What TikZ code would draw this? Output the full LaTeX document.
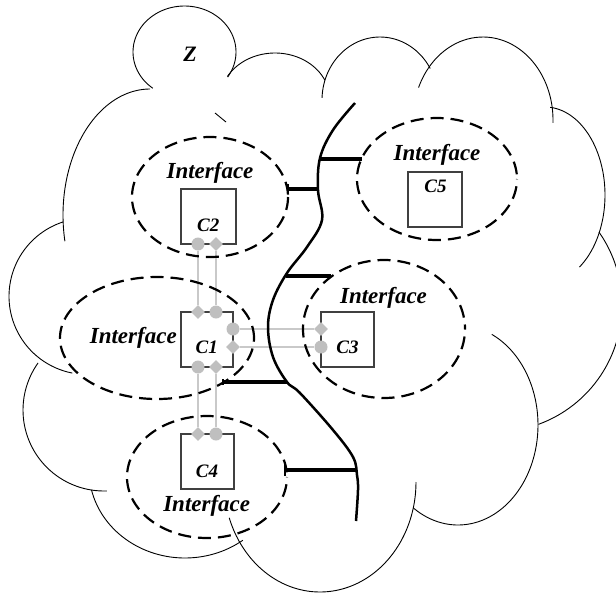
\documentclass[tikz,border=0pt]{standalone}
\usepackage{fontspec}
\setmainfont{Liberation Serif}
\usetikzlibrary{shapes.geometric}

% one bump of the cloud outline: centre, radii, angular range
\newcommand{\cloudbump}[6]{%
  \draw[cloud] plot[domain=#5:#6, samples=48, smooth]
    ({#1+#3*cos(\x)},{#2+#4*sin(\x)});}

\begin{document}
\begin{tikzpicture}[x=1pt,y=-1pt,
  cloud/.style={line width=0.9pt, black},
  zone/.style={ellipse, draw, line width=2.2pt, dash pattern=on 13pt off 7pt, inner sep=0pt},
  comp/.style={rectangle, draw=black!75, line width=1.1pt, inner sep=0pt},
  iflabel/.style={font=\fontsize{23}{23}\selectfont\bfseries\itshape, anchor=base, inner sep=0pt},
  clabel/.style={font=\fontsize{19}{19}\selectfont\bfseries\itshape, anchor=base, inner sep=0pt},
  spine/.style={line width=2.5pt, line join=round},
  branch/.style={line width=3.5pt},
  endbar/.style={line width=2pt},
  link/.style={draw=black!21, line width=1.8pt},
  pin/.style={circle, fill=black!25, minimum size=13pt, inner sep=0pt},
  gem/.style={diamond, fill=black!25, minimum size=14pt, inner sep=0pt},
]
\useasboundingbox (0,0) rectangle (616,595);
\fill[white] (0,0) rectangle (616,595);

% cloud outline
\cloudbump{184.5}{52}{51.5}{46}{128}{393}
\cloudbump{275}{100}{55}{47}{210}{335}
\cloudbump{380}{100}{58}{63}{182}{330}
\cloudbump{483}{120}{70}{83}{203}{362}
\cloudbump{545}{195}{60}{88}{275}{415}
\cloudbump{495}{305}{127}{127}{325}{430}
\cloudbump{458}{425}{80}{100}{-65}{124}
\cloudbump{320}{482}{96}{110}{0}{161}
\cloudbump{185}{470}{96}{88}{53}{167}
\cloudbump{104}{410}{81}{81}{88}{215.5}
\cloudbump{87.2}{296.3}{78.2}{78.2}{101}{252}
\cloudbump{150}{215}{87}{126}{168}{270}
\draw[cloud] (215,113) -- (226,122);
\node[font=\fontsize{22}{22}\selectfont\bfseries\itshape, anchor=base, inner sep=0pt] (zlab) at (190,61) {Z};

% components
\node[comp, minimum width=55pt, minimum height=55pt] (c2) at (208.5,216.5) {};
\node[comp, minimum width=52pt, minimum height=55pt] (c1) at (207,339.5) {};
\node[comp, minimum width=53pt, minimum height=55pt] (c3) at (347.5,339.5) {};
\node[comp, minimum width=53pt, minimum height=55pt] (c4) at (207.5,461.5) {};
\node[comp, minimum width=54pt, minimum height=55pt] (c5) at (435,199.5) {};

% ports
\node[pin] (a1) at (198,244) {};
\node[gem] (a2) at (216,244) {};
\node[gem] (b1) at (198,312) {};
\node[pin] (b2) at (216,312) {};
\node[pin] (r1) at (233,329) {};
\node[gem] (r2) at (233,347) {};
\node[gem] (q1) at (321,329) {};
\node[pin] (q2) at (321,347) {};
\node[pin] (d1) at (198,367) {};
\node[gem] (d2) at (216,367) {};
\node[gem] (f1) at (198,434) {};
\node[pin] (f2) at (216,434) {};

% port links
\draw[link] (a1) -- (b1);
\draw[link] (a2) -- (b2);
\draw[link] (r1) -- (q1);
\draw[link] (r2) -- (q2);
\draw[link] (d1) -- (f1);
\draw[link] (d2) -- (f2);

% interface zones
\node[zone, minimum width=156pt, minimum height=120pt, dash phase=17.6pt] (z2) at (210,197) {};
\node[zone, minimum width=194pt, minimum height=122pt, dash phase=0.8pt] (z1) at (157,338) {};
\node[zone, minimum width=162pt, minimum height=138pt, dash phase=8.5pt] (z3) at (384,329) {};
\node[zone, minimum width=160pt, minimum height=122pt, dash phase=15.3pt] (z4) at (207,477) {};
\node[zone, minimum width=160pt, minimum height=122pt, dash phase=15.3pt] (z5) at (437,179) {};

% backbone and its branches
\draw[spine] plot[smooth, tension=0.6] coordinates {
  (355,103) (333,130) (320,158) (318,190) (322,220) (307,247) (287,273)
  (273,300) (268,327) (273,357) (287,382) (300,393) (333,430) (353,457)
  (357,475) (358,490) (356,521)};
\coordinate (s5) at (320,159);
\coordinate (s2) at (319,189);
\coordinate (s3) at (286,276);
\coordinate (s1) at (287,382);
\coordinate (s4) at (357,470);
\coordinate (t5) at (362,159);
\coordinate (t2) at (288,189);
\coordinate (t3) at (331,276);
\coordinate (t1) at (223,382);
\coordinate (t4) at (285,470);
\draw[branch] (s5) -- (t5);
\draw[branch] (s2) -- (t2);
\draw[branch] (s3) -- (t3);
\draw[branch] (s1) -- (t1);
\draw[branch] (s4) -- (t4);
\draw[endbar] ([yshift=-5pt]t2) -- ([yshift=5pt]t2);
\draw[endbar] ([yshift=-3pt]t1) -- ([yshift=3pt]t1);
\draw[endbar] ([yshift=-6pt]t4) -- ([yshift=6pt]t4);

% texts
\node[iflabel] (i2) at (210,178) {Interface};
\node[iflabel] (i5) at (437,160) {Interface};
\node[iflabel] (i3) at (383.5,303) {Interface};
\node[iflabel] (i1) at (133.3,343) {Interface};
\node[iflabel] (i4) at (206.7,511.5) {Interface};
\node[clabel] (n2) at (208.3,231) {C2};
\node[clabel] (n5) at (435.5,192) {C5};
\node[clabel] (n1) at (206.7,353.3) {C1};
\node[clabel] (n3) at (347.5,353.3) {C3};
\node[clabel] (n4) at (207,477) {C4};
\end{tikzpicture}
\end{document}
